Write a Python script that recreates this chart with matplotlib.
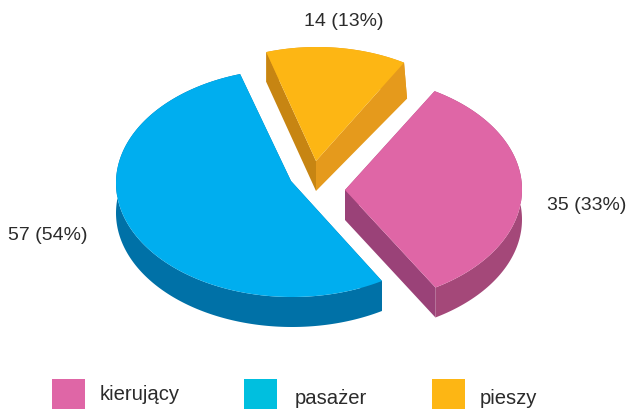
import numpy as np
import matplotlib
matplotlib.use("Agg")
import matplotlib.pyplot as plt
from matplotlib.patches import Rectangle, Polygon

# Data
categories = ["kierujący", "pasażer", "pieszy"]
values = [35, 57, 14]
percents = [33, 54, 13]

# Styles and layout
top_colors = ["#DF66A6", "#00AEEF", "#FDB614"]
rim_colors = ["#A44879", "#0071A7", "#E59A1C"]
first_face_colors = ["#A44879", "#0071A7", "#C78512"]
last_face_colors = ["#9A4278", "#0071A7", "#E59A1C"]
legend_colors = ["#DF66A6", "#00BFDF", "#FDB614"]
apexes = [(345, 190), (291, 181), (316, 161)]
arc_centers = [(345, 189.5), (292, 183), (317, 161)]
radii_x = [177, 176, 172]
radii_y = [114, 114, 114]
last_edge_shift = [(0, 0), (0, 0), (3, 6)]
label_xy = [(587, 206), (48, 236), (344, 22)]
legend_x = [52, 244, 432]
legend_tx = [100, 295, 480]
legend_ty = [394, 399, 399]

DEPTH = 30
START_DEG = 59.6
W, H = 628, 409

plt.rcParams["font.family"] = ["Liberation Sans", "DejaVu Sans"]
fig = plt.figure(figsize=(W / 100, H / 100), dpi=100)
ax = fig.add_axes([0, 0, 1, 1])
ax.set_xlim(0, W)
ax.set_ylim(H, 0)
ax.axis("off")

fracs = np.array(values) / np.sum(values)
ends = START_DEG - np.cumsum(fracs) * 360
starts = np.r_[START_DEG, ends[:-1]]

drop = np.array([0, DEPTH], float)

for i in [2, 1, 0]:
    t = np.radians(np.linspace(starts[i], ends[i], 200))
    cx, cy = arc_centers[i]
    pts = np.c_[cx + radii_x[i] * np.cos(t), cy - radii_y[i] * np.sin(t)]
    ap = np.array(apexes[i], float)
    shift = np.array(last_edge_shift[i], float)

    rim_bottom = pts + drop + np.linspace(0, 1, len(pts))[:, None] * shift
    ax.add_patch(Polygon(np.r_[pts, rim_bottom[::-1]], closed=True,
                         fc=rim_colors[i], ec="none", zorder=2))
    ax.add_patch(Polygon([ap, pts[0], rim_bottom[0], ap + drop], closed=True,
                         fc=first_face_colors[i], ec="none", zorder=2))
    ax.add_patch(Polygon([ap, pts[-1], rim_bottom[-1], ap + drop], closed=True,
                         fc=last_face_colors[i], ec="none", zorder=2))
    ax.add_patch(Polygon(np.r_[[ap], pts], closed=True,
                         fc=top_colors[i], ec="none", zorder=2))

    ax.text(*label_xy[i], f"{values[i]} ({percents[i]}%)", fontsize=14, color="#2B2B2B",
            ha="center", va="center", zorder=5)
    ax.add_patch(Rectangle((legend_x[i], 379), 33, 31, fc=legend_colors[i], ec="none", zorder=3))
    ax.text(legend_tx[i], legend_ty[i], categories[i], fontsize=14.6, color="#2B2B2B",
            ha="left", va="center", zorder=5)

fig.savefig("out.png", dpi=100, facecolor="white")
